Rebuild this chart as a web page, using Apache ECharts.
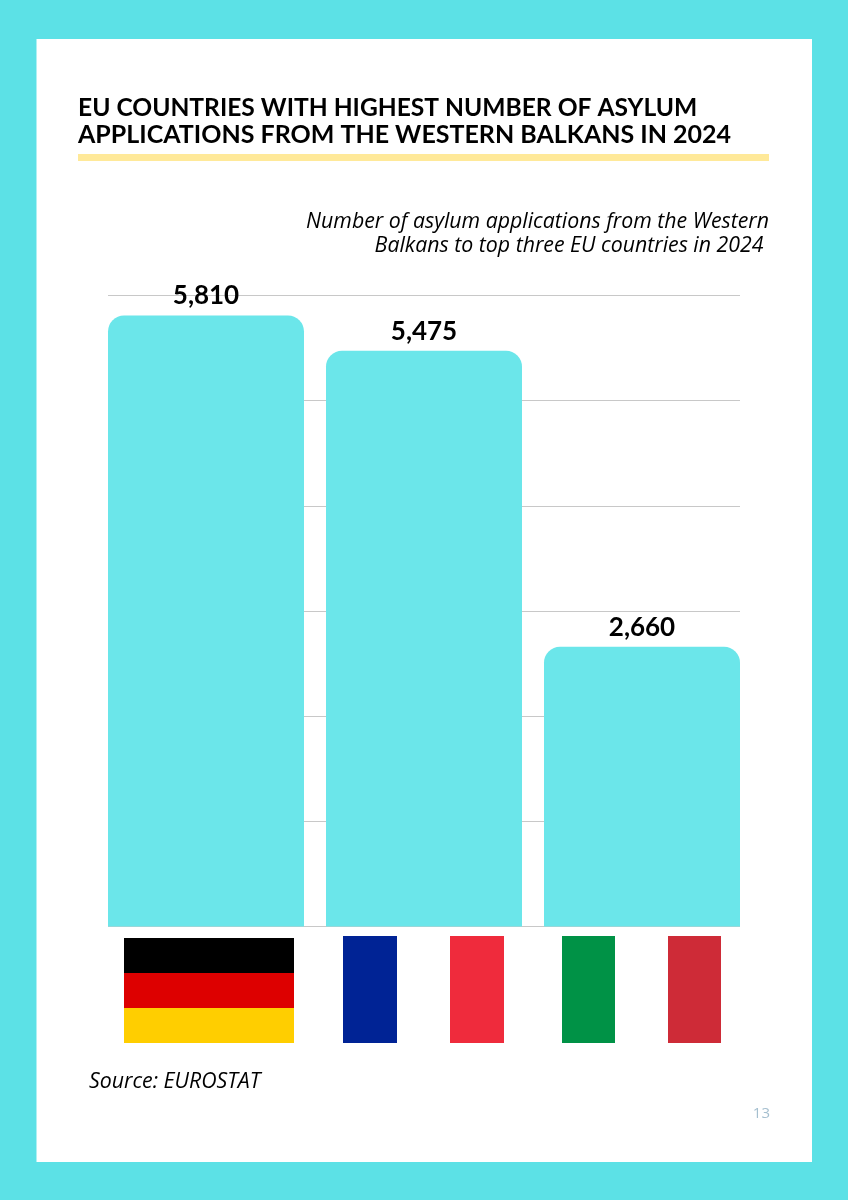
<!DOCTYPE html>
<html>
<head>
<meta charset="utf-8">
<title>Asylum applications</title>
<script src="https://cdn.jsdelivr.net/npm/echarts@6/dist/echarts.min.js"></script>
<style>
html, body { margin: 0; padding: 0; background: #5ce1e6; }
#chart { width: 848px; height: 1200px; }
</style>
</head>
<body>
<div id="chart"></div>
<script>
"use strict";
var countries = ["Germany", "France", "Italy"];
var applications = [5810, 5475, 2660];
var yTicks = { min: 0, max: 6000, interval: 1000 };

var titleLines = [
    "EU COUNTRIES WITH HIGHEST NUMBER OF ASYLUM",
    "APPLICATIONS FROM THE WESTERN BALKANS IN 2024"
];
var subtitleLines = [
    "Number of asylum applications from the Western",
    "Balkans to top three EU countries in 2024 "
];
var sourceText = "Source: EUROSTAT";
var pageNumber = "13";

function rect(x, y, w, h, color, z) {
    return { type: "rect", z: z || 5, shape: { x: x, y: y, width: w, height: h }, style: { fill: color } };
}
function label(x, y, text, font, color, align) {
    return {
        type: "text", z: 5, x: x, y: y,
        style: { text: text, font: font, fill: color, textAlign: align || "left", textVerticalAlign: "middle" }
    };
}

var noteFont = "italic 400 21.3px 'Open Sans'";

var graphics = [
    rect(36.5, 39, 775.5, 1123, "#ffffff", -10),
    label(78, 108.5, titleLines[0], "700 24.6px Lato", "#000000"),
    label(78, 134.5, titleLines[1], "700 25px Lato", "#000000"),
    rect(78, 154, 691, 7, "#ffe999"),
    label(769, 221.5, subtitleLines[0], noteFont, "#000000", "right"),
    label(769, 245.5, subtitleLines[1], noteFont, "#000000", "right"),
    // flags under the bars
    rect(124, 938, 170, 35, "#000000"),
    rect(124, 973, 170, 35, "#dd0000"),
    rect(124, 1008, 170, 35, "#ffce00"),
    rect(343, 936, 54, 107, "#002395"),
    rect(450, 936, 54, 107, "#ef2b3c"),
    rect(562, 936, 53, 107, "#009246"),
    rect(668, 936, 53, 107, "#ce2b37"),
    label(89, 1081.5, sourceText, noteFont, "#000000"),
    label(770, 1114, pageNumber, "400 15px 'Open Sans'", "#a5bfcf", "right")
];

var myChart = echarts.init(document.getElementById("chart"), null, { renderer: "canvas" });
myChart.setOption({
    animation: false,
    backgroundColor: "#5ce1e6",
    graphic: { elements: graphics },
    // grid 0 only holds the gridlines, grid 1 is wider so the outer bars sit flush with them
    grid: [
        { left: 108, width: 632, top: 295.5, height: 631 },
        { left: 97, width: 654, top: 295.5, height: 631 }
    ],
    xAxis: [
        { gridIndex: 0, type: "value", min: 0, max: 1, show: false },
        {
            gridIndex: 1, type: "category", data: countries,
            axisLine: { show: false }, axisTick: { show: false }, axisLabel: { show: false }
        }
    ],
    yAxis: [
        {
            gridIndex: 0, type: "value", min: yTicks.min, max: yTicks.max, interval: yTicks.interval,
            axisLine: { show: false }, axisTick: { show: false }, axisLabel: { show: false },
            splitLine: { show: true, lineStyle: { color: "#c8c8c8", width: 1 } }
        },
        {
            gridIndex: 1, type: "value", min: yTicks.min, max: yTicks.max, interval: yTicks.interval,
            axisLine: { show: false }, axisTick: { show: false }, axisLabel: { show: false },
            splitLine: { show: false }
        }
    ],
    series: [
        {
            type: "bar",
            xAxisIndex: 1,
            yAxisIndex: 1,
            data: applications,
            barWidth: 196,
            itemStyle: { color: "#6be6ea", borderRadius: [16, 16, 0, 0] },
            label: {
                show: true,
                position: "top",
                distance: 6.5,
                color: "#000000",
                fontFamily: "Lato",
                fontWeight: 700,
                fontSize: 26,
                formatter: function (p) { return p.value.toLocaleString("en-US"); }
            }
        }
    ]
});
</script>
</body>
</html>
